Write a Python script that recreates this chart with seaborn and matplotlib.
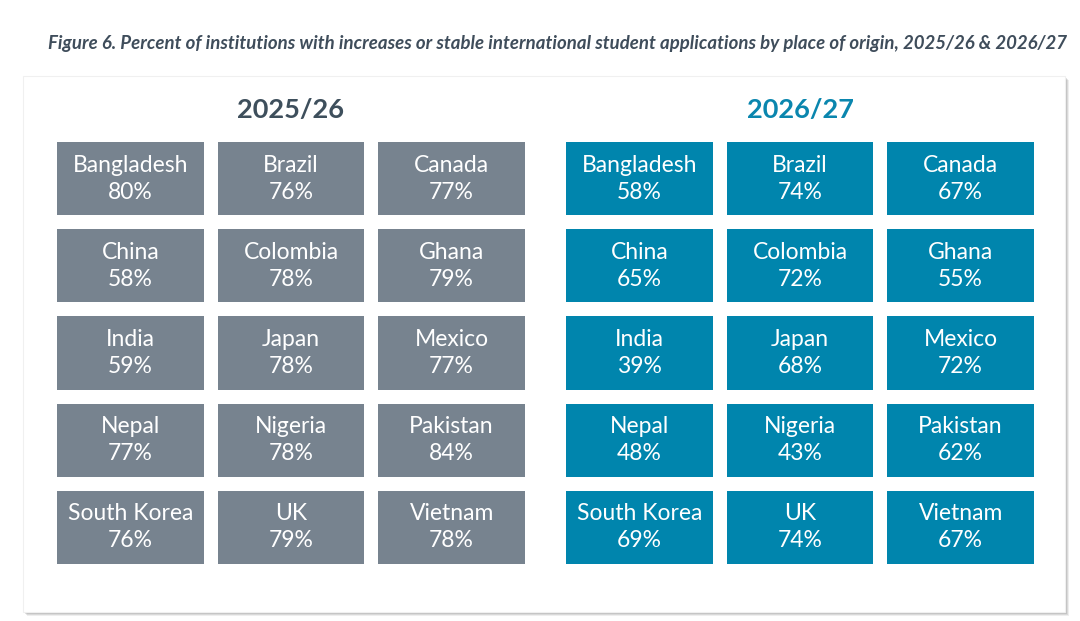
import numpy as np
import matplotlib
matplotlib.use("Agg")
import matplotlib.pyplot as plt
from matplotlib.colors import ListedColormap
from matplotlib.patches import Rectangle
import seaborn as sns

# Du lieu: ty le co so co don dang ky tang hoac on dinh theo quoc gia
countries = ["Bangladesh", "Brazil", "Canada",
             "China", "Colombia", "Ghana",
             "India", "Japan", "Mexico",
             "Nepal", "Nigeria", "Pakistan",
             "South Korea", "UK", "Vietnam"]
values_2526 = [80, 76, 77, 58, 78, 79, 59, 78, 77, 77, 78, 84, 76, 79, 78]
values_2627 = [58, 74, 67, 65, 72, 55, 39, 68, 72, 48, 43, 62, 69, 74, 67]
periods = ["2025/26", "2026/27"]

title = ("Figure 6. Percent of institutions with increases or stable international "
         "student applications by place of origin, 2025/26 & 2026/27")

GRAY = "#77838f"
BLUE = "#0085ad"
HEAD_GRAY = "#3e4f5c"
HEAD_BLUE = "#0a86ae"
TITLE_COLOR = "#3f4d5b"

sns.set_theme(style="white")
plt.rcParams["font.family"] = ["Lato", "DejaVu Sans"]

W, H = 1080, 621
fig = plt.figure(figsize=(W / 100, H / 100), dpi=100)


def fx(px):
    return px / W


def fy(py):
    return 1 - py / H


# Khung nen voi bong do
px0, py0, px1, py1 = 23, 76, 1065, 612
for i, a in enumerate([0.10, 0.14, 0.18, 0.22]):
    off = 4 - i
    fig.patches.append(Rectangle((fx(px0 + off), fy(py1 + off)), fx(px1 - px0), (py1 - py0) / H,
                                 transform=fig.transFigure, facecolor="#606060", edgecolor="none",
                                 alpha=a, zorder=-3))
fig.patches.append(Rectangle((fx(px0), fy(py1)), fx(px1 - px0), (py1 - py0) / H,
                             transform=fig.transFigure, facecolor="white", edgecolor="#f0f0f0",
                             linewidth=0.8, zorder=-2))

fig.text(fx(1067), fy(44), title, ha="right", va="center", fontsize=13.45,
         fontweight="bold", fontstyle="italic", color=TITLE_COLOR)

groups = [(values_2526, GRAY, HEAD_GRAY, 50), (values_2627, BLUE, HEAD_BLUE, 559)]
for period, (vals, color, head_color, left) in zip(periods, groups):
    ax = fig.add_axes([fx(left), fy(571), fx(482), 436 / H])
    data = np.array(vals).reshape(5, 3)
    labels = np.array([f"{c}\n{v}%" for c, v in zip(countries, vals)]).reshape(5, 3)
    sns.heatmap(data, ax=ax, cmap=ListedColormap([color]), cbar=False,
                annot=labels, fmt="", linewidths=10, linecolor="white",
                xticklabels=False, yticklabels=False,
                annot_kws={"color": "white", "fontsize": 16.5, "linespacing": 1.36})
    ax.patch.set_alpha(0)
    for s in ax.spines.values():
        s.set_visible(False)
    fig.text(fx(left + 241), fy(110), period, ha="center", va="center", fontsize=19.5,
             fontweight="bold", color=head_color)

fig.savefig("out.png", dpi=100)
